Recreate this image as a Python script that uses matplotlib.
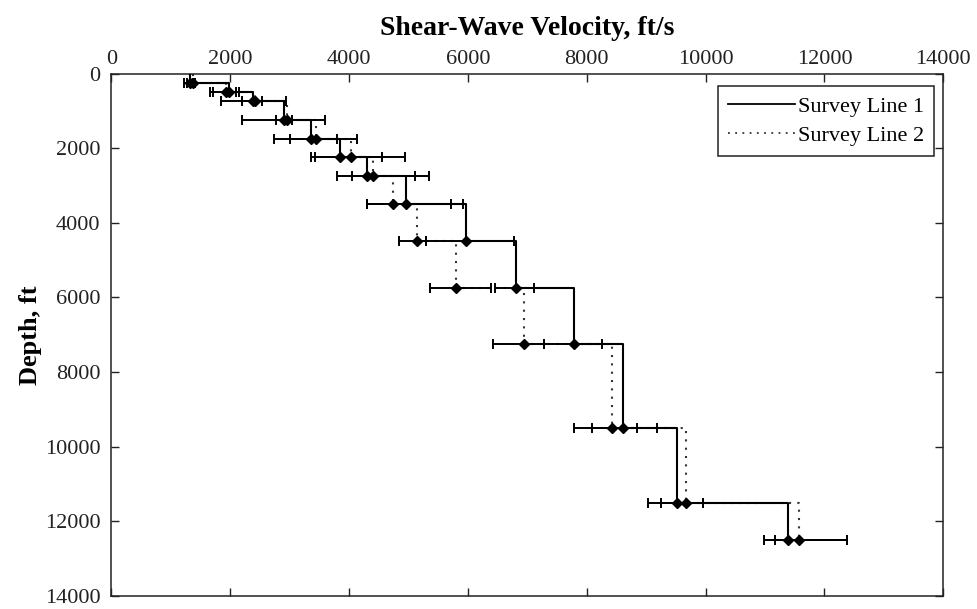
import numpy as np
import matplotlib
matplotlib.use("Agg")
import matplotlib.pyplot as plt
from matplotlib.lines import Line2D

#%% data

depth = [250, 500, 750, 1250, 1750, 2250, 2750, 3500, 4500, 5750, 7250, 9500, 11500, 12500]

# Survey Line 1 (solid)
vs1 = [1330, 1976, 2390, 2900, 3360, 3845, 4293, 4950, 5975, 6806, 7778, 8614, 9512, 11383]
lo1 = [1225, 1705, 1845, 2189, 2732, 3350, 3788, 4296, 5295, 6457, 7283, 8086, 9024, 10978]
hi1 = [1380, 2143, 2530, 3042, 3788, 4557, 5101, 5908, 6778, 7114, 8250, 9176, 9951, 12377]

# Survey Line 2 (dotted)
vs2 = [1370, 1920, 2410, 2960, 3450, 4035, 4405, 4736, 5150, 5795, 6946, 8418, 9675, 11579]
lo2 = [1265, 1655, 2193, 2761, 3002, 3423, 4040, 4296, 4846, 5357, 6413, 7778, 9249, 11169]
hi2 = [1410, 2104, 2939, 3591, 4136, 4938, 5342, 5711, 5295, 6385, 7283, 8839, 9951, 12377]

xticks = [0, 2000, 4000, 6000, 8000, 10000, 12000, 14000]
yticks = [0, 2000, 4000, 6000, 8000, 10000, 12000, 14000]

#%%

plt.rcParams['font.family'] = ['Liberation Serif', 'DejaVu Serif']

fig = plt.figure(figsize=(9.77, 6.09), dpi=100)
ax = fig.add_axes([0.1141, 0.0213, 0.8514, 0.858])


def draw_profile(ax, v, lo, hi, ls, color, z):
    v = np.asarray(v, float)
    d = np.asarray(depth, float)
    # step profile: layer velocity down to bottom of layer, then over to next
    ax.step(np.r_[v[0], v], np.r_[0, d], where='post', color=color,
            ls=ls, lw=1.5, zorder=z)
    ax.errorbar(v, d, xerr=[v - np.asarray(lo), np.asarray(hi) - v],
                fmt='none', ecolor='k', elinewidth=1.4, capsize=3.3,
                capthick=1.4, zorder=z + 0.1)
    ax.plot(v, d, ls='none', marker='D', ms=5, color='k', zorder=z + 0.2)


draw_profile(ax, vs2, lo2, hi2, (0, (1, 3)), '#333333', 2)
draw_profile(ax, vs1, lo1, hi1, '-', 'k', 3)

ax.set_xlim(0, 14000)
ax.set_ylim(14000, 0)
ax.set_xticks(xticks)
ax.set_yticks(yticks)
ax.xaxis.set_label_position('top')
ax.tick_params(direction='in', length=5.5, width=1, top=True, bottom=True,
               left=True, right=True, labeltop=True, labelbottom=False,
               labelsize=16, colors='#222222')
ax.tick_params(axis='x', pad=3)
ax.tick_params(axis='y', pad=8)
for s in ax.spines.values():
    s.set_linewidth(1.1)
    s.set_color('#222222')

ax.set_xlabel('Shear-Wave Velocity, ft/s', fontsize=20, fontweight='bold',
              labelpad=11)
ax.set_ylabel('Depth, ft', fontsize=19, fontweight='bold', labelpad=2)

handles = [Line2D([], [], color='k', lw=1.3, ls='-'),
           Line2D([], [], color='#333333', lw=1.3, ls=(0, (1, 3)))]
leg = ax.legend(handles, ['Survey Line 1', 'Survey Line 2'], loc='upper right',
                bbox_to_anchor=(0.9888, 0.976), borderaxespad=0,
                fontsize=16, handlelength=3.0, handletextpad=0.15,
                fancybox=False, framealpha=1, edgecolor='#222222',
                labelspacing=0.4, borderpad=0.45)
leg.get_frame().set_linewidth(1.1)

fig.savefig('out.png', dpi=100)
